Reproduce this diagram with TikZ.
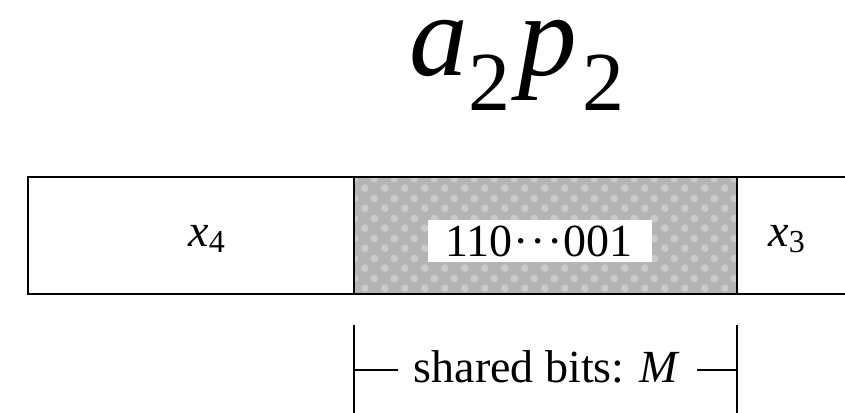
\documentclass[tikz,border=0pt]{standalone}
\usepackage{fontspec}
\setmainfont{Liberation Serif}
\usetikzlibrary{patterns}
\definecolor{shadegray}{RGB}{180,180,180}
\definecolor{dotgray}{RGB}{202,202,202}
\pgfdeclarepatternformonly{softblobs}{\pgfpointorigin}{\pgfqpoint{15pt}{15pt}}{\pgfqpoint{15pt}{15pt}}{%
  \pgfpathcircle{\pgfqpoint{3.75pt}{3.75pt}}{3pt}%
  \pgfpathcircle{\pgfqpoint{11.25pt}{11.25pt}}{3pt}%
  \pgfusepath{fill}}
\newcommand\lowsub[3]{\raisebox{-#2}{\fontsize{#1}{#1}\selectfont #3}}
\begin{document}
\begin{tikzpicture}[x=0.75pt,y=-0.75pt,line width=2pt,
  lab/.style={font=\fontsize{34.5}{40}\selectfont, inner sep=0pt},
  big/.style={font=\fontsize{88}{94}\selectfont, inner sep=0pt, text height=42pt, text depth=28pt}]
\useasboundingbox (0,0) rectangle (845,413);
% shaded middle field
\fill[shadegray] (354,177) rectangle (737,294);
\fill[pattern=softblobs, pattern color=dotgray] (354,177) rectangle (737,294);
\fill[white] (428,220) rectangle (652,262);
% frame
\draw (845,177) -- (28,177) -- (28,294) -- (845,294);
\draw (354,177) -- (354,294);
\draw (737,177) -- (737,294);
% title
\node[big, anchor=base west] (title) at (408,76)
  {\textit{a}\lowsub{63pt}{26pt}{2}\kern6pt\textit{p}\kern4pt\lowsub{63pt}{26pt}{2}};
% field labels
\node[lab, anchor=base west] (x4) at (187,247) {\textit{x}\lowsub{24pt}{4.5pt}{4}};
\node[lab, anchor=base west] (x3) at (767,247) {\textit{x}\lowsub{24pt}{4.5pt}{3}};
\node[lab, anchor=base] (bits) at (539,257) {110\kern1pt·\kern1pt·\kern1pt·\kern1pt001};
% bracket
\node[lab, anchor=base] (shared) at (547,382) {shared bits: \textit{M}};
\coordinate (bl) at (354,325);
\coordinate (blb) at (354,413);
\coordinate (br) at (737,325);
\coordinate (brb) at (737,413);
\coordinate (ml) at (354,370);
\coordinate (mle) at (398,370);
\coordinate (mr) at (737,370);
\coordinate (mre) at (697,370);
\draw (bl) -- (blb);
\draw (br) -- (brb);
\draw (ml) -- (mle);
\draw (mr) -- (mre);
\end{tikzpicture}
\end{document}
